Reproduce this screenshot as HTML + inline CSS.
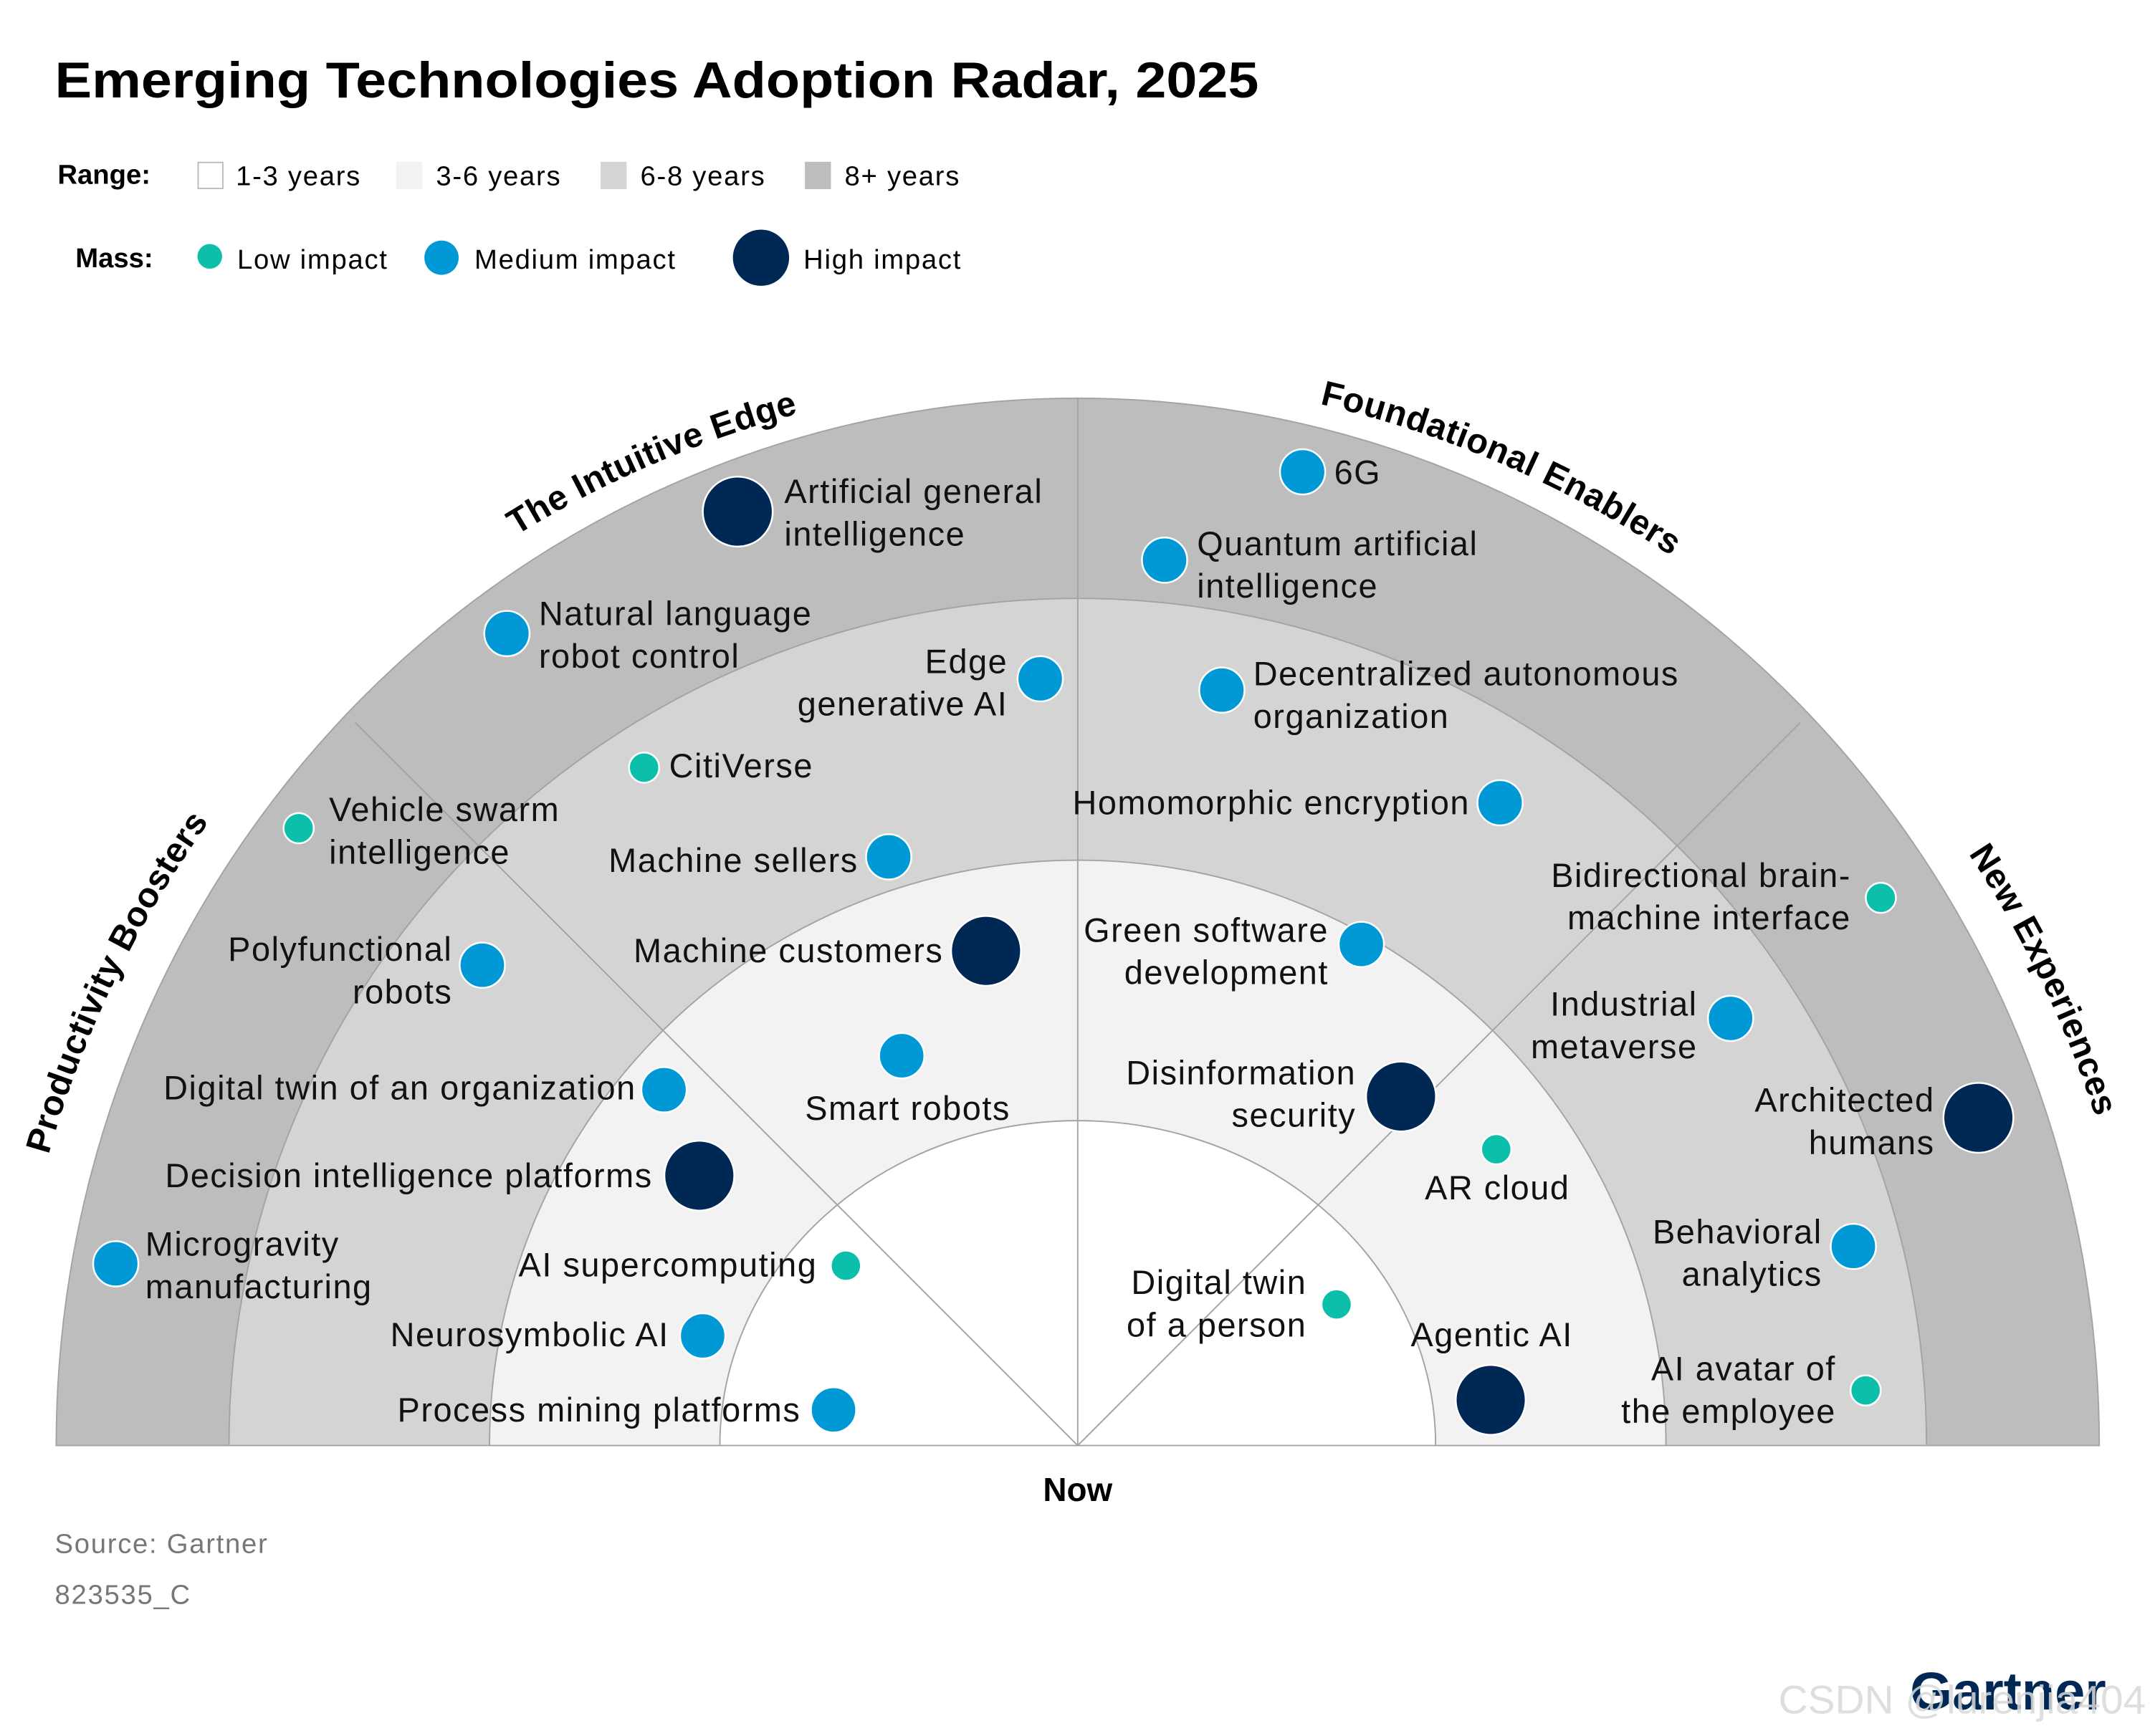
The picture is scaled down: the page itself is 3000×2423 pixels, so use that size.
<!DOCTYPE html>
<html><head><meta charset="utf-8">
<style>
html,body{margin:0;padding:0;background:#fff;}
svg{display:block;}
text{font-family:"Liberation Sans",sans-serif;}
.lbl{font-size:24.5px;fill:#111;letter-spacing:0.8px;}
.sec{font-size:25.5px;font-weight:bold;fill:#000;letter-spacing:0.3px;}
.leg{letter-spacing:0.9px;}
</style></head>
<body>
<svg id="chart" width="3000" height="2423" viewBox="0 0 1568 1266.4" xmlns="http://www.w3.org/2000/svg">
  <text x="40" y="71" font-size="37" font-weight="bold" textLength="878" lengthAdjust="spacingAndGlyphs">Emerging Technologies Adoption Radar, 2025</text>

  <g font-size="20">
    <text x="42" y="134" font-weight="bold">Range:</text>
    <rect x="144.5" y="118.5" width="18" height="19" fill="#fff" stroke="#bbb"/>
    <text class="leg" x="172" y="135">1-3 years</text>
    <rect x="289" y="118" width="19" height="20" fill="#f2f2f2"/>
    <text class="leg" x="318" y="135">3-6 years</text>
    <rect x="438" y="118" width="19" height="20" fill="#d4d4d4"/>
    <text class="leg" x="467" y="135">6-8 years</text>
    <rect x="587" y="118" width="19" height="20" fill="#bdbdbd"/>
    <text class="leg" x="616" y="135">8+ years</text>
  </g>
  <g font-size="20">
    <text x="55" y="195" font-weight="bold">Mass:</text>
    <circle cx="153" cy="187" r="9" fill="#0bbfab"/>
    <text class="leg" x="173" y="196">Low impact</text>
    <circle cx="322" cy="188" r="12.5" fill="#0099d6"/>
    <text class="leg" x="346" y="196">Medium impact</text>
    <circle cx="555" cy="188" r="20.5" fill="#002855"/>
    <text class="leg" x="586" y="196">High impact</text>
  </g>

  <g stroke="#a3a3a3" stroke-width="1">
    <path d="M41,1054.5 A745 764 0 0 1 1531,1054.5 Z" fill="#bdbdbd"/>
    <path d="M167,1054.5 A619 618 0 0 1 1405,1054.5 Z" fill="#d4d4d4"/>
    <path d="M357,1054.5 A429 427 0 0 1 1215,1054.5 Z" fill="#f2f2f2"/>
    <path d="M525,1054.5 A261 237 0 0 1 1047,1054.5 Z" fill="#fff"/>
    <line x1="786" y1="1054.5" x2="259" y2="527"/>
    <line x1="786" y1="1054.5" x2="786" y2="290"/>
    <line x1="786" y1="1054.5" x2="1313" y2="527"/>
  </g>

  <defs><path id="secArc" d="M6,1054.5 A780 780 0 0 1 1566,1054.5"/></defs>
  <text class="sec"><textPath href="#secArc" startOffset="14.3%" text-anchor="middle">Productivity Boosters</textPath></text>
  <text class="sec"><textPath href="#secArc" startOffset="37.0%" text-anchor="middle">The Intuitive Edge</textPath></text>
  <text class="sec"><textPath href="#secArc" startOffset="63.0%" text-anchor="middle">Foundational Enablers</textPath></text>
  <text class="sec"><textPath href="#secArc" startOffset="85.7%" text-anchor="middle">New Experiences</textPath></text>

  <g id="dots"></g>

  <g class="lbl">
    <text class="lbl" x="572" y="367">Artificial general<tspan x="572" dy="31">intelligence</tspan></text>
    <text class="lbl" x="393" y="456">Natural language<tspan x="393" dy="31">robot control</tspan></text>
    <text class="lbl" x="735" y="491" text-anchor="end">Edge<tspan x="735" dy="31">generative AI</tspan></text>
    <text class="lbl" x="488" y="567">CitiVerse</text>
    <text class="lbl" x="240" y="599">Vehicle swarm<tspan x="240" dy="31">intelligence</tspan></text>
    <text class="lbl" x="626" y="636" text-anchor="end">Machine sellers</text>
    <text class="lbl" x="688" y="702" text-anchor="end">Machine customers</text>
    <text class="lbl" x="330" y="701" text-anchor="end">Polyfunctional<tspan x="330" dy="31">robots</tspan></text>
    <text class="lbl" x="662" y="817" text-anchor="middle">Smart robots</text>
    <text class="lbl" x="464" y="802" text-anchor="end">Digital twin of an organization</text>
    <text class="lbl" x="476" y="866" text-anchor="end">Decision intelligence platforms</text>
    <text class="lbl" x="106" y="916">Microgravity<tspan x="106" dy="31">manufacturing</tspan></text>
    <text class="lbl" x="596" y="931" text-anchor="end">AI supercomputing</text>
    <text class="lbl" x="488" y="982" text-anchor="end">Neurosymbolic AI</text>
    <text class="lbl" x="584" y="1037" text-anchor="end">Process mining platforms</text>
    <text class="lbl" x="973" y="353">6G</text>
    <text class="lbl" x="873" y="405">Quantum artificial<tspan x="873" dy="31">intelligence</tspan></text>
    <text class="lbl" x="914" y="500">Decentralized autonomous<tspan x="914" dy="31">organization</tspan></text>
    <text class="lbl" x="1072" y="594" text-anchor="end">Homomorphic encryption</text>
    <text class="lbl" x="969" y="687" text-anchor="end">Green software<tspan x="969" dy="31">development</tspan></text>
    <text class="lbl" x="989" y="791" text-anchor="end">Disinformation<tspan x="989" dy="31">security</tspan></text>
    <text class="lbl" x="1092" y="875" text-anchor="middle">AR cloud</text>
    <text class="lbl" x="953" y="944" text-anchor="end">Digital twin<tspan x="953" dy="31">of a person</tspan></text>
    <text class="lbl" x="1088" y="982" text-anchor="middle">Agentic AI</text>
    <text class="lbl" x="1350" y="647" text-anchor="end">Bidirectional brain-<tspan x="1350" dy="31">machine interface</tspan></text>
    <text class="lbl" x="1238" y="741" text-anchor="end">Industrial<tspan x="1238" dy="31">metaverse</tspan></text>
    <text class="lbl" x="1411" y="811" text-anchor="end">Architected<tspan x="1411" dy="31">humans</tspan></text>
    <text class="lbl" x="1329" y="907" text-anchor="end">Behavioral<tspan x="1329" dy="31">analytics</tspan></text>
    <text class="lbl" x="1339" y="1007" text-anchor="end">AI avatar of<tspan x="1339" dy="31">the employee</tspan></text>
  </g>

  <text x="786" y="1095" text-anchor="middle" font-size="24" font-weight="bold">Now</text>
  <text class="leg" x="40" y="1133" font-size="20" fill="#777">Source: Gartner</text>
  <text class="leg" x="40" y="1170" font-size="20" fill="#777">823535_C</text>
  <text x="1393" y="1247" font-size="39" font-weight="bold" fill="#002855" textLength="143" lengthAdjust="spacingAndGlyphs">Gartner</text>
  <text x="1297" y="1250" font-size="29" fill="#d8d8d8" fill-opacity="0.85" textLength="268" lengthAdjust="spacingAndGlyphs">CSDN @lurenjia404</text>
</svg>
<script>
// Radar data: angle in degrees (0 = right, 180 = left), radial distance from "Now", impact level
const techNames = ["Artificial general intelligence","Natural language robot control","Edge generative AI","CitiVerse","Vehicle swarm intelligence","Machine sellers","Machine customers","Polyfunctional robots","Smart robots","Digital twin of an organization","Decision intelligence platforms","Microgravity manufacturing","AI supercomputing","Neurosymbolic AI","Process mining platforms","6G","Quantum artificial intelligence","Decentralized autonomous organization","Homomorphic encryption","Green software development","Disinformation security","AR cloud","Digital twin of a person","Agentic AI","Bidirectional brain-machine interface","Industrial metaverse","Architected humans","Behavioral analytics","AI avatar of the employee"];
const techAngles = [110.0,125.1,92.8,122.6,141.6,107.8,100.5,141.1,114.3,139.3,144.5,169.3,142.2,163.7,171.7,77.0,84.4,79.2,56.7,60.5,47.2,35.3,28.6,6.3,34.3,33.2,20.0,14.4,4.0];
const techRadial = [725,724,560,587,725,451,367,558,312,398,339,714,214,285,180,729,649,561,561,420,347,374,215,303,709,569,699,584,576];
const techImpact = ["high","medium","medium","low","low","medium","high","medium","medium","medium","high","medium","low","medium","medium","medium","medium","medium","medium","medium","high","low","low","high","low","medium","high","medium","low"];

const CX = 786, CY = 1054.5;
function rScale(v){ return v; }
function xPos(a, v){ return CX + rScale(v) * Math.cos(a * Math.PI / 180); }
function yPos(a, v){ return CY - rScale(v) * Math.sin(a * Math.PI / 180); }
const sizeOf = {low: 11, medium: 16.5, high: 25.5};
const colorOf = {low: "#0bbfab", medium: "#0099d6", high: "#002855"};

const g = document.getElementById("dots");
const NS = "http://www.w3.org/2000/svg";
for (let i = 0; i < techNames.length; i++) {
  const c = document.createElementNS(NS, "circle");
  c.setAttribute("cx", xPos(techAngles[i], techRadial[i]));
  c.setAttribute("cy", yPos(techAngles[i], techRadial[i]));
  c.setAttribute("r", sizeOf[techImpact[i]]);
  c.setAttribute("fill", colorOf[techImpact[i]]);
  c.setAttribute("stroke", "#fff");
  c.setAttribute("stroke-width", "1.3");
  
  
  const t = document.createElementNS(NS, "title");
  t.textContent = techNames[i];
  c.appendChild(t);
  g.appendChild(c);
}
</script>
</body></html>
